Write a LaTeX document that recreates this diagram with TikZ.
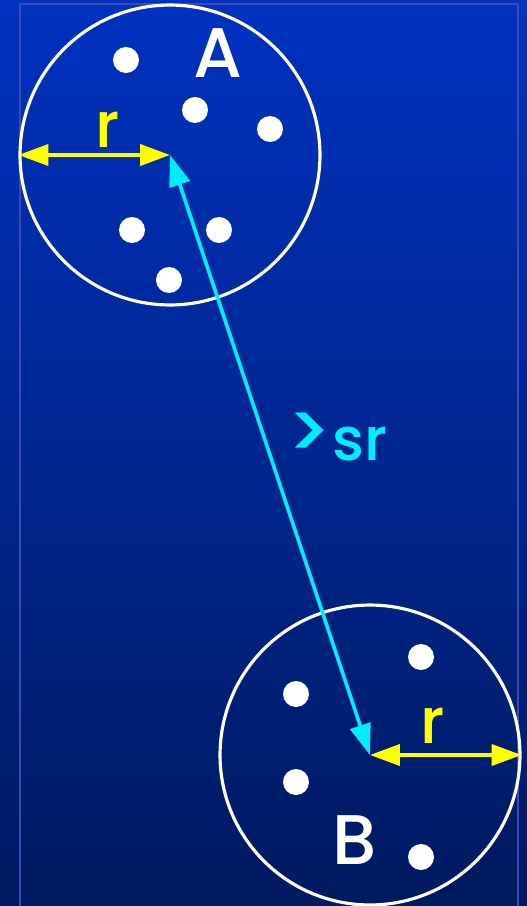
\documentclass[tikz,border=0pt]{standalone}
\usepackage{fontspec}
\setmainfont{Poppins}[BoldFont={Poppins Medium}]
\usetikzlibrary{arrows.meta, positioning}
\definecolor{slidetop}{RGB}{0,50,192}
\definecolor{slidebottom}{RGB}{0,26,96}
\definecolor{framelilac}{RGB}{60,72,180}
\definecolor{radiusyellow}{RGB}{255,255,0}
\definecolor{sepcyan}{RGB}{0,238,255}
\tikzset{
  % Cluster outline and its members
  cluster/.style={circle, draw=white, line width=1.8pt, minimum size=6cm, inner sep=0pt},
  member/.style={circle, fill=white, minimum size=0.52cm, inner sep=0pt},
  clusterlabel/.style={font=\fontsize{40}{44}\selectfont\bfseries, text=white, inner sep=0pt},
  % Radius and separation arrows
  radiusarrow/.style={{Triangle[length=0.6cm,width=0.42cm]}-{Triangle[length=0.6cm,width=0.42cm]},
    line width=2.2pt, radiusyellow},
  radiuslabel/.style={font=\fontsize{36}{40}\selectfont\bfseries, text=radiusyellow, inner sep=0pt},
  separrow/.style={{Triangle[length=0.62cm,width=0.42cm]}-{Triangle[length=0.62cm,width=0.42cm]},
    line width=2pt, sepcyan},
  seplabel/.style={font=\fontsize{34}{38}\selectfont\bfseries, text=sepcyan, inner sep=0pt}
}
\begin{document}
\begin{tikzpicture}[x=0.02cm, y=-0.02cm]
  % Background
  \useasboundingbox (0,0) rectangle (527,906);
  \shade[top color=slidetop, bottom color=slidebottom] (0,0) rectangle (527,906);
  \draw[framelilac, line width=0.6pt] (20,4) rectangle (518,915);

  % Cluster A
  \node[cluster] (cA) at (170,155) {};
  \node[member] (a1) at (126,60) {};
  \node[member] (a2) at (195,110) {};
  \node[member] (a3) at (270,129) {};
  \node[member] (a4) at (132,230) {};
  \node[member] (a5) at (219,230) {};
  \node[member] (a6) at (169,280) {};
  \node[clusterlabel] (lA) at (218,53) {A};

  % Cluster B
  \node[cluster] (cB) at (370,755) {};
  \node[member] (b1) at (421,657) {};
  \node[member] (b2) at (296,694) {};
  \node[member] (b3) at (296,782) {};
  \node[member] (b4) at (421,857) {};
  \node[clusterlabel] (lB) at (355,840) {B};

  % Radii
  \draw[radiusarrow] (cA.west) -- (cA.center);
  \node[radiuslabel] (rA) at (108,130) {r};
  \draw[radiusarrow] (cB.center) -- (cB.east);
  \node[radiuslabel] (rB) at (433,726) {r};

  % Separation between the centres
  \draw[separrow] (cA.center) -- (cB.center);
  \node[seplabel] (sep) at (337,437) {{\fontsize{44}{44}\selectfont\raisebox{1pt}{>}}sr};
\end{tikzpicture}
\end{document}
